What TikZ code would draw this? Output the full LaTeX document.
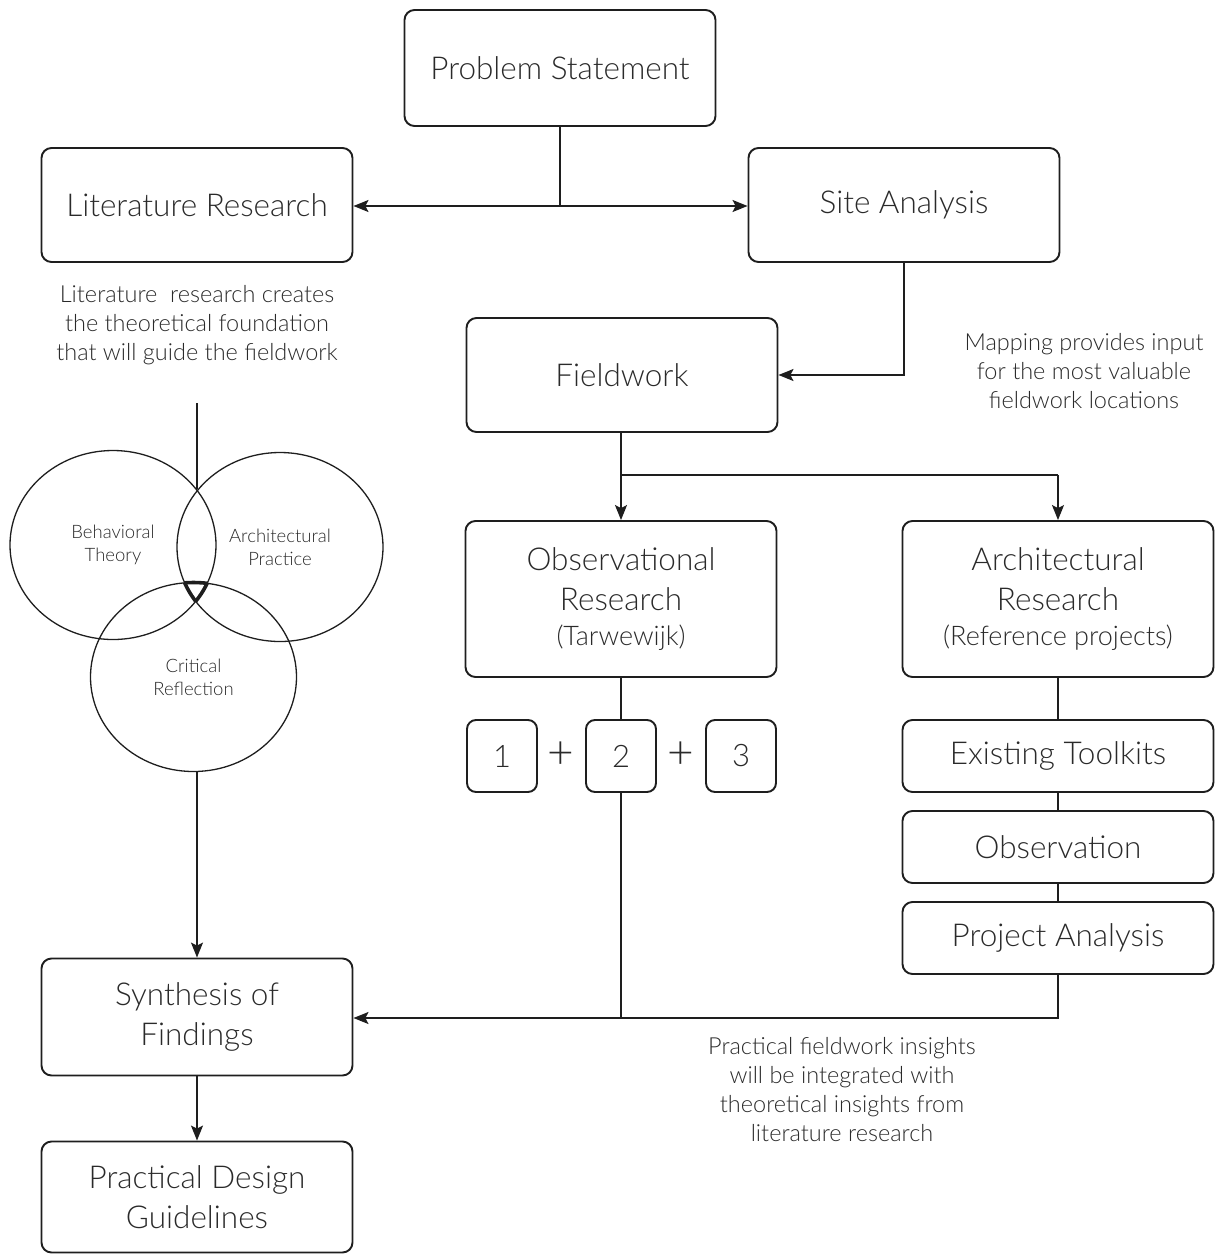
\documentclass[tikz,border=0pt]{standalone}
\usepackage{fontspec}
\setmainfont{Lato}[UprightFont={* Light}]
\usetikzlibrary{arrows.meta,shapes.geometric}
\definecolor{linecol}{HTML}{1E1E1E}
\definecolor{txtcol}{HTML}{2A2A2A}
\begin{document}
\begin{tikzpicture}[x=1pt,y=-1pt,
  box/.style={draw=linecol, line width=1.9pt, rounded corners=10pt, inner sep=0pt,
    align=center, text=txtcol, minimum width=311pt, font=\fontsize{31.5}{40}\selectfont},
  numbox/.style={draw=linecol, line width=1.9pt, rounded corners=9pt, inner sep=0pt,
    text=txtcol, minimum width=70pt, minimum height=72pt, font=\fontsize{31}{35}\selectfont},
  plus/.style={text=txtcol, inner sep=0pt, font=\fontsize{46}{46}\selectfont},
  note/.style={align=center, text=txtcol, inner sep=0pt, font=\fontsize{23.5}{29}\selectfont},
  venn/.style={draw=linecol, line width=1.3pt, ellipse, inner sep=0pt, align=center,
    text=txtcol, minimum width=206pt, minimum height=189pt, font=\fontsize{18.5}{23}\selectfont},
  conn/.style={draw=linecol, line width=1.4pt},
  arr/.style={conn, -{Stealth[length=15pt,width=12pt,inset=3pt]}}
]
\useasboundingbox (0,0) rectangle (1217,1254);

% main process boxes
\node[box, minimum height=116pt] (ps) at (560,68) {Problem Statement};
\node[box, minimum height=114pt] (lit) at (197,205) {Literature Research};
\node[box, minimum height=114pt] (site) at (904,205) {Site Analysis};
\node[box, minimum height=114pt] (field) at (622,375) {Fieldwork};
\node[box, minimum height=156pt] (obs) at (621,599)
  {Observational\\Research\\[-5pt]{\fontsize{27}{32}\selectfont (Tarwewijk)}};
\node[box, minimum height=156pt] (arch) at (1058,599)
  {Architectural\\Research\\[-5pt]{\fontsize{27}{32}\selectfont (Reference projects)}};

% numbered fieldwork steps
\node[numbox] (n1) at (502,756) {1};
\node[numbox] (n2) at (621,756) {2};
\node[numbox] (n3) at (741,756) {3};
\node[plus] (p1) at (561,755) {+};
\node[plus] (p2) at (681,755) {+};

% architectural research steps
\node[box, minimum height=72pt] (tk) at (1058,756) {Existing Toolkits};
\node[box, minimum height=72pt] (ob) at (1058,847) {Observation};
\node[box, minimum height=72pt] (pa) at (1058,938) {Project Analysis};

% outcome boxes
\node[box, minimum height=117pt] (syn) at (197,1017) {Synthesis of\\Findings};
\node[box, minimum height=111pt] (guide) at (197,1197) {Practical Design\\Guidelines};

% notes
\node[note] (n-lit) at (197,325) {Literature~ research creates\\the theoretical foundation\\that will guide the fieldwork};
\node[note] (n-map) at (1084,371) {Mapping provides input\\for the most valuable\\fieldwork locations};
\node[note] (n-ins) at (842,1090) {Practical fieldwork insights\\will be integrated with\\theoretical insights from\\literature research};

% Venn diagram of the theoretical framework
\node[venn] (bt) at (113,545) {Behavioral\\Theory};
\node[venn] (ap) at (280,547) {Architectural\\Practice};
\node[venn] (cr) at (193.5,677) {Critical\\Reflection};

% thick outline of the triple overlap
\begin{scope}
  \clip (113,545) ellipse [x radius=103pt, y radius=94.5pt];
  \clip (280,547) ellipse [x radius=103pt, y radius=94.5pt];
  \draw[linecol, line width=3.6pt] (193.5,677) ellipse [x radius=103pt, y radius=94.5pt];
\end{scope}
\begin{scope}
  \clip (113,545) ellipse [x radius=103pt, y radius=94.5pt];
  \clip (193.5,677) ellipse [x radius=103pt, y radius=94.5pt];
  \draw[linecol, line width=3.6pt] (280,547) ellipse [x radius=103pt, y radius=94.5pt];
\end{scope}
\begin{scope}
  \clip (280,547) ellipse [x radius=103pt, y radius=94.5pt];
  \clip (193.5,677) ellipse [x radius=103pt, y radius=94.5pt];
  \draw[linecol, line width=3.6pt] (113,545) ellipse [x radius=103pt, y radius=94.5pt];
\end{scope}

% connectors
\coordinate (j1) at (560,206);
\draw[conn] (ps.south) -- (j1);
\draw[arr] (j1) -- (j1 -| lit.east);
\draw[arr] (j1) -- (j1 -| site.west);

\draw[arr] (site.south) |- (field.east);

\coordinate (j2) at (621,475);
\draw[conn] (field.south -| j2) -- (j2);
\draw[arr] (j2) -- (obs.north);
\draw[conn] (j2) -- (j2 -| arch.north);
\draw[arr] (j2 -| arch.north) -- (arch.north);

\draw[conn] (obs.south) -- (n2.north);
\draw[conn] (arch.south) -- (tk.north);
\draw[conn] (tk.south) -- (ob.north);
\draw[conn] (ob.south) -- (pa.north);

\coordinate (j3) at (621,1018);
\draw[conn] (n2.south) -- (j3);
\draw[arr] (pa.south) |- (syn.east |- j3);

\coordinate (vs) at (197,403);
\coordinate (vt) at (197,488.5);
\draw[conn] (vs) -- (vt);
\draw[arr] (syn.north |- cr.south) -- (syn.north);

\draw[arr] (syn.south) -- (guide.north);
\end{tikzpicture}
\end{document}
